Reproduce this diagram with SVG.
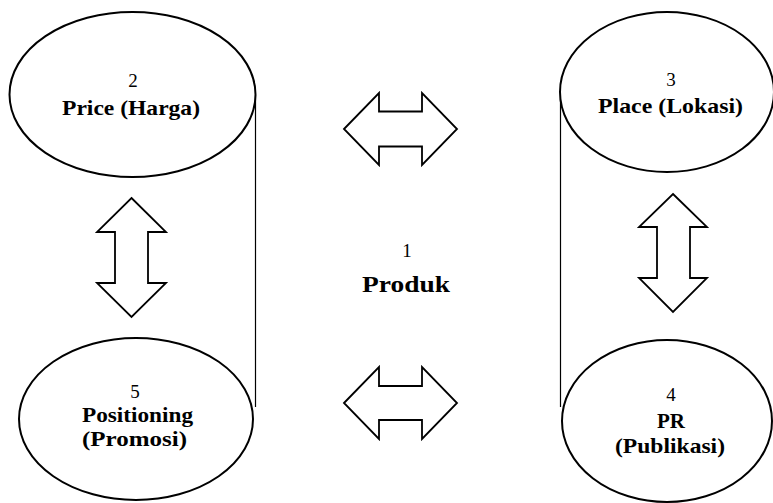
<svg xmlns="http://www.w3.org/2000/svg" width="773" height="503" viewBox="0 0 773 503">
  <style>
    .oval { fill: #fff; stroke: #000; stroke-width: 2; }
    .rail { stroke: #000; stroke-width: 1.2; fill: none; }
    .arrow { fill: #fff; stroke: #000; stroke-width: 1.8; stroke-linejoin: miter; }
    text { font-family: "Liberation Serif", "Times New Roman", serif; fill: #000; text-anchor: middle; }
    .num { font-size: 19px; }
    .lbl { font-size: 21px; font-weight: bold; }
    .core { font-size: 23px; font-weight: bold; }
  </style>
  <rect width="773" height="503" fill="#fff"/>

  <!-- connectors: side rails and double-headed block arrows -->
  <g id="connectors">
    <line class="rail" x1="255.5" y1="95" x2="255.5" y2="407"/>
    <line class="rail" x1="560.5" y1="93" x2="560.5" y2="407"/>
    <polygon class="arrow" points="344,129 379,93 379,111.5 422,111.5 422,93 457,129 422,165 422,146.5 379,146.5 379,165"/>
    <polygon class="arrow" points="344,403 379,367 379,386 422,386 422,367 457,403 422,439 422,420 379,420 379,439"/>
    <polygon class="arrow" points="131.5,198 166,232 148,232 148,283 166,283 131.5,317 97,283 115,283 115,232 97,232"/>
    <polygon class="arrow" points="673,194 707,227 690,227 690,278 707,278 673,312 639,278 657,278 657,227 639,227"/>
  </g>

  <g id="node-price">
    <ellipse class="oval" cx="132.5" cy="94.5" rx="123" ry="82.5"/>
    <text class="num" x="133" y="87">2</text>
    <text class="lbl" x="131" y="115" textLength="138" lengthAdjust="spacingAndGlyphs">Price (Harga)</text>
  </g>

  <g id="node-place">
    <ellipse class="oval" cx="667" cy="92" rx="107" ry="80"/>
    <text class="num" x="671" y="86">3</text>
    <text class="lbl" x="670.5" y="113" textLength="145" lengthAdjust="spacingAndGlyphs">Place (Lokasi)</text>
  </g>

  <g id="node-produk">
    <text class="num" x="407" y="257">1</text>
    <text class="core" x="406" y="292" textLength="88" lengthAdjust="spacingAndGlyphs">Produk</text>
  </g>

  <g id="node-positioning">
    <ellipse class="oval" cx="136" cy="419" rx="117" ry="81"/>
    <text class="num" x="135" y="398">5</text>
    <text class="lbl" x="137.5" y="422" textLength="111" lengthAdjust="spacingAndGlyphs">Positioning</text>
    <text class="lbl" x="134.5" y="446" textLength="105" lengthAdjust="spacingAndGlyphs">(Promosi)</text>
  </g>

  <g id="node-pr">
    <ellipse class="oval" cx="667" cy="421" rx="105" ry="81"/>
    <text class="num" x="671" y="401">4</text>
    <text class="lbl" x="671" y="428" textLength="28" lengthAdjust="spacingAndGlyphs">PR</text>
    <text class="lbl" x="670" y="453" textLength="110" lengthAdjust="spacingAndGlyphs">(Publikasi)</text>
  </g>
</svg>
